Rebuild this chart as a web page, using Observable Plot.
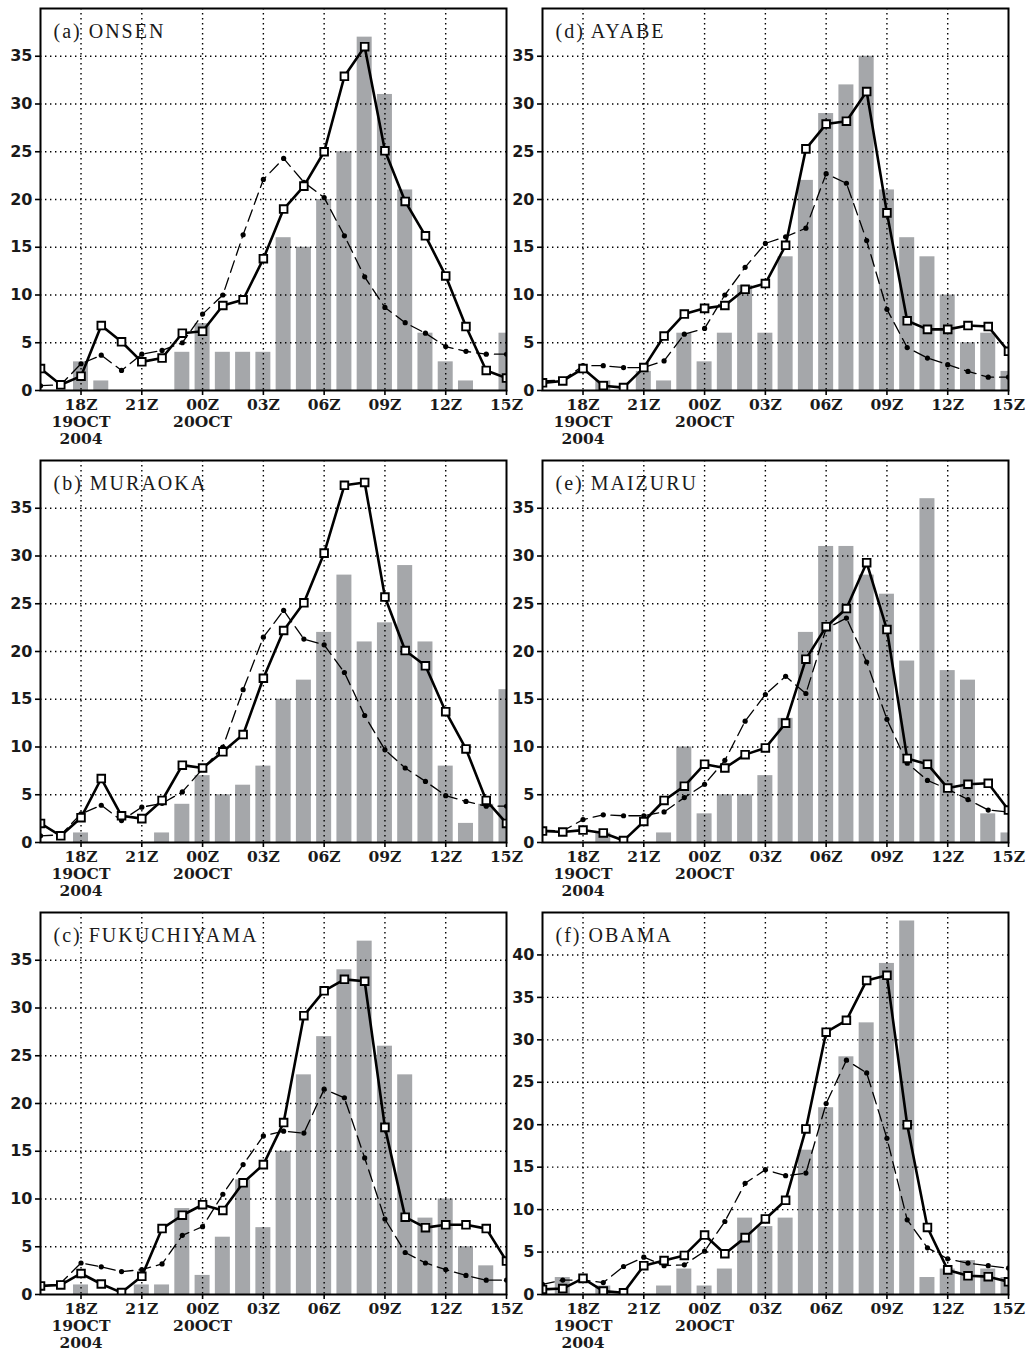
<!DOCTYPE html>
<html><head><meta charset="utf-8">
<script src="https://cdn.jsdelivr.net/npm/d3@7"></script>
<script src="https://cdn.jsdelivr.net/npm/@observablehq/plot@0.6"></script>
<style>
body{margin:0;background:#fff;}
#wrap{position:relative;width:1033px;height:1357px;overflow:hidden;}
.panel{position:absolute;}
.panel svg{overflow:visible;}
</style></head><body><div id="wrap"></div>
<script>
// hourly times, 19 Oct 2004 16Z through 20 Oct 2004 15Z
const hours = ["16Z","17Z","18Z","19Z","20Z","21Z","22Z","23Z","00Z","01Z","02Z","03Z",
               "04Z","05Z","06Z","07Z","08Z","09Z","10Z","11Z","12Z","13Z","14Z","15Z"];
const tickHours = ["18Z","21Z","00Z","03Z","06Z","09Z","12Z","15Z"];
const tickLabels = ["18Z\n19OCT\n2004","21Z","00Z\n20OCT","03Z","06Z","09Z","12Z","15Z"];

const titles = ["(a) ONSEN","(b) MURAOKA","(c) FUKUCHIYAMA","(d) AYABE","(e) MAIZURU","(f) OBAMA"];

// (a) ONSEN
const onsenBars   = [0,0,3,1,0,0,0,4,7,4,4,4,16,15,20,25,37,31,21,6,3,1,0,6];
const onsenSolid  = [2.3,0.6,1.5,6.8,5.1,3.0,3.4,6.0,6.2,8.9,9.5,13.8,19.0,21.4,25.0,32.9,36.0,25.1,19.8,16.2,12.0,6.7,2.1,1.3];
const onsenDashed = [0.5,0.6,2.8,3.7,2.1,3.8,4.2,5.0,8.0,10.0,16.3,22.1,24.3,21.8,20.2,16.2,11.9,8.7,7.1,6.0,4.6,4.1,3.8,3.8];
// (b) MURAOKA
const muraokaBars   = [0,0,1,0,0,0,1,4,7,5,6,8,15,17,22,28,21,23,29,21,8,2,4,16];
const muraokaSolid  = [2.0,0.7,2.6,6.7,2.8,2.5,4.4,8.1,7.8,9.5,11.3,17.2,22.2,25.1,30.3,37.4,37.7,25.7,20.1,18.5,13.7,9.8,4.4,2.0];
const muraokaDashed = [0.7,0.8,3.0,3.9,2.3,3.7,4.1,5.3,7.7,10.0,16.0,21.5,24.3,21.3,20.7,17.8,13.3,9.7,7.8,6.4,4.9,4.3,3.8,3.8];
// (c) FUKUCHIYAMA
const fukuBars   = [0,0,1,0,0,1,1,9,2,6,12,7,15,23,27,34,37,26,23,8,10,5,3,0];
const fukuSolid  = [0.9,1.0,2.2,1.1,0.2,1.9,6.9,8.3,9.4,8.8,11.7,13.6,18.0,29.2,31.8,33.0,32.8,17.5,8.1,7.0,7.3,7.3,6.9,3.5];
const fukuDashed = [0.8,1.2,3.3,2.9,2.4,2.6,3.2,6.2,7.1,10.5,13.6,16.6,17.1,16.9,21.5,20.6,14.3,7.9,4.4,3.3,2.6,2.0,1.5,1.5];
// (d) AYABE
const ayabeBars   = [0,0,0,1,0,2,1,6,3,6,11,6,14,22,29,32,35,21,16,14,10,5,6,2];
const ayabeSolid  = [0.8,1.0,2.3,0.5,0.3,2.4,5.7,8.0,8.6,8.9,10.6,11.2,15.2,25.3,27.9,28.2,31.3,18.6,7.3,6.4,6.4,6.8,6.7,4.1];
const ayabeDashed = [1.0,1.1,2.6,2.6,2.4,2.4,3.1,5.9,6.5,10.0,12.9,15.4,16.1,17.0,22.7,21.7,15.7,8.5,4.5,3.4,2.7,2.0,1.4,1.4];
// (e) MAIZURU
const maizuruBars   = [0,0,0,1,0,0,1,10,3,5,5,7,13,22,31,31,28,26,19,36,18,17,3,1];
const maizuruSolid  = [1.2,1.1,1.3,1.0,0.2,2.2,4.4,5.9,8.2,7.8,9.2,9.9,12.5,19.2,22.6,24.5,29.3,22.3,8.8,8.2,5.7,6.1,6.2,3.4];
const maizuruDashed = [1.3,1.2,2.4,2.9,2.8,2.8,3.2,4.7,6.1,8.6,12.7,15.5,17.4,15.6,22.4,23.5,18.9,12.9,8.3,6.5,5.6,4.5,3.4,3.2];
// (f) OBAMA
const obamaBars   = [0,2,0,1,0,0,1,3,1,3,9,8,9,17,22,28,32,39,44,2,3,4,3,2];
const obamaSolid  = [0.6,0.7,1.9,0.4,0.2,3.4,4.0,4.6,7.0,4.8,6.7,8.9,11.1,19.5,30.9,32.3,37.0,37.6,20.0,7.9,2.9,2.2,2.1,1.5];
const obamaDashed = [1.2,1.7,1.7,1.4,3.3,4.4,3.4,3.5,5.1,8.6,13.1,14.7,14.0,14.3,22.5,27.6,26.1,18.4,8.8,5.5,4.2,3.7,3.4,3.1];

const yTicks = [0,5,10,15,20,25,30,35];
const yTicksF = [0,5,10,15,20,25,30,35,40];

const panels = [
  {title: titles[0], bars: onsenBars, solid: onsenSolid, dashed: onsenDashed, ymax: 40, ticks: yTicks, col: 0, row: 0},
  {title: titles[1], bars: muraokaBars, solid: muraokaSolid, dashed: muraokaDashed, ymax: 40, ticks: yTicks, col: 0, row: 1},
  {title: titles[2], bars: fukuBars, solid: fukuSolid, dashed: fukuDashed, ymax: 40, ticks: yTicks, col: 0, row: 2},
  {title: titles[3], bars: ayabeBars, solid: ayabeSolid, dashed: ayabeDashed, ymax: 40, ticks: yTicks, col: 1, row: 0},
  {title: titles[4], bars: maizuruBars, solid: maizuruSolid, dashed: maizuruDashed, ymax: 40, ticks: yTicks, col: 1, row: 1},
  {title: titles[5], bars: obamaBars, solid: obamaSolid, dashed: obamaDashed, ymax: 45, ticks: yTicksF, col: 1, row: 2}
];

const idx = h => hours.indexOf(h);
const W = 516, H = 452;
const wrap = document.getElementById("wrap");

for (const p of panels) {
  const table = hours.map((h, i) => ({i, bar: p.bars[i], solid: p.solid[i], dashed: p.dashed[i]}));
  const gridY = p.ticks.filter(t => t > 0);
  const gridX = tickHours.slice(0, -1).map(idx);
  const chart = Plot.plot({
    width: W, height: H,
    marginLeft: 40, marginRight: 10, marginTop: 8, marginBottom: 62,
    style: {background: "transparent", overflow: "visible"},
    x: {domain: [0, 23], axis: null},
    y: {domain: [0, p.ymax], axis: null},
    marks: [
      Plot.rect(table, {x1: d => d.i - 0.37, x2: d => d.i + 0.37, y1: () => 0, y2: "bar", fill: "#a5a7aa", clip: true}),
      Plot.ruleY(gridY, {stroke: "black", strokeWidth: 1.4, strokeDasharray: "1.4,3.6"}),
      Plot.ruleX(gridX, {stroke: "black", strokeWidth: 1.4, strokeDasharray: "1.4,3.6"}),
      Plot.line(table, {x: "i", y: "dashed", stroke: "black", strokeWidth: 1.3, strokeDasharray: "12,6", clip: true}),
      Plot.dot(table, {x: "i", y: "dashed", r: 2.6, fill: "black", clip: true}),
      Plot.line(table, {x: "i", y: "solid", stroke: "black", strokeWidth: 2.6, clip: true}),
      Plot.dot(table, {x: "i", y: "solid", symbol: "square", r: 4.3, fill: "white", stroke: "black", strokeWidth: 1.9, clip: true}),
      Plot.frame({stroke: "black", strokeWidth: 2}),
      Plot.axisY(p.ticks, {label: null, tickSize: 5, tickPadding: 3, strokeWidth: 1.6, fontSize: 16, fontFamily: "DejaVu Sans", fontWeight: "bold", fill: "#1a1a1a"}),
      Plot.axisX(tickHours.map(idx), {label: null, tickSize: 5, tickPadding: 3, strokeWidth: 1.6, fontSize: 15.5, fontFamily: "DejaVu Serif", fontWeight: "bold", lineHeight: 1.08, fill: "#1a1a1a",
        tickFormat: i => tickLabels[tickHours.indexOf(hours[i])]}),
      Plot.text([p.title], {frameAnchor: "top-left", dx: 13, dy: 15, lineAnchor: "top", textAnchor: "start", fontSize: 20, fontFamily: "Liberation Serif", fill: "#1a1a1a"})
    ]
  });
  chart.querySelectorAll('g[aria-label="text"] text').forEach(t => { t.style.letterSpacing = "2px"; });
  const div = document.createElement("div");
  div.className = "panel";
  div.style.left = (p.col === 0 ? 0 : 502) + "px";
  div.style.top = (p.row * 452) + "px";
  div.appendChild(chart);
  wrap.appendChild(div);
}
</script>
</body></html>
